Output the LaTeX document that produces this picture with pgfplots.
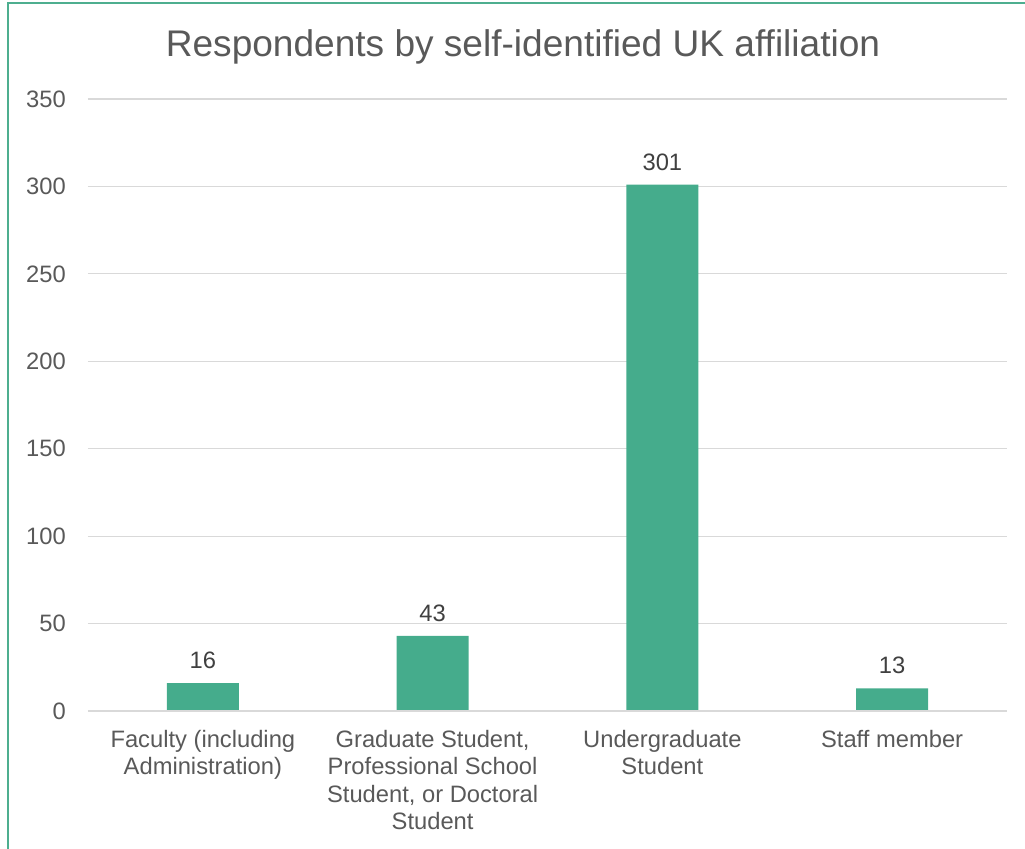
\documentclass[border=0pt]{standalone}
\usepackage{pgfplots}
\pgfplotsset{compat=1.18}
\usepackage{fontspec}
\setmainfont{Liberation Sans}
\definecolor{barc}{HTML}{45AC8C}
\definecolor{gridc}{HTML}{D9D9D9}
\definecolor{tickc}{HTML}{595959}
\definecolor{labc}{HTML}{404040}
\definecolor{framec}{HTML}{4DAE8F}
\begin{document}
\begin{tikzpicture}[x=0.75pt,y=0.75pt]
\useasboundingbox (-88,-138) rectangle (937,711);
\draw[framec,line width=1.1pt] (-80,-140) -- (-80,708) -- (940,708);
\begin{axis}[
  at={(0,0)}, anchor=south west,
  scale only axis,
  width=689.25pt, height=459pt,
  ymin=0, ymax=350,
  xmin=-0.5, xmax=3.5,
  ybar, bar width=54pt,
  ytick={0,50,...,350},
  xtick=data,
  xticklabels={{Faculty (including\\Administration)},{Graduate Student,\\Professional School\\Student, or Doctoral\\Student},{Undergraduate\\Student},{Staff member}},
  axis line style={draw=none},
  axis x line*=bottom,
  major tick length=0pt,
  ymajorgrids, grid style={gridc, line width=0.9pt},
  /pgf/number format/assume math mode=true,
  tick label style={font=\fontsize{17.8}{20.7}\selectfont, text=tickc},
  yticklabel style={inner sep=0pt, xshift=-16.5pt},
  xticklabel style={align=center, anchor=north, inner sep=0pt, yshift=-14pt},
  nodes near coords,
  every node near coord/.append style={font=\fontsize{17.8}{20.7}\selectfont, text=labc, yshift=7pt},
  clip=false,
]
\addplot[fill=barc, draw=none] coordinates {(0,16) (1,43) (2,301) (3,13)};
\draw[gridc, line width=0.9pt] (axis cs:-0.5,0) -- (axis cs:3.5,0);
\end{axis}
\node[text=tickc, font=\fontsize{27.8}{32}\selectfont] at (435,664) {Respondents by self-identified UK affiliation};
\end{tikzpicture}
\end{document}
